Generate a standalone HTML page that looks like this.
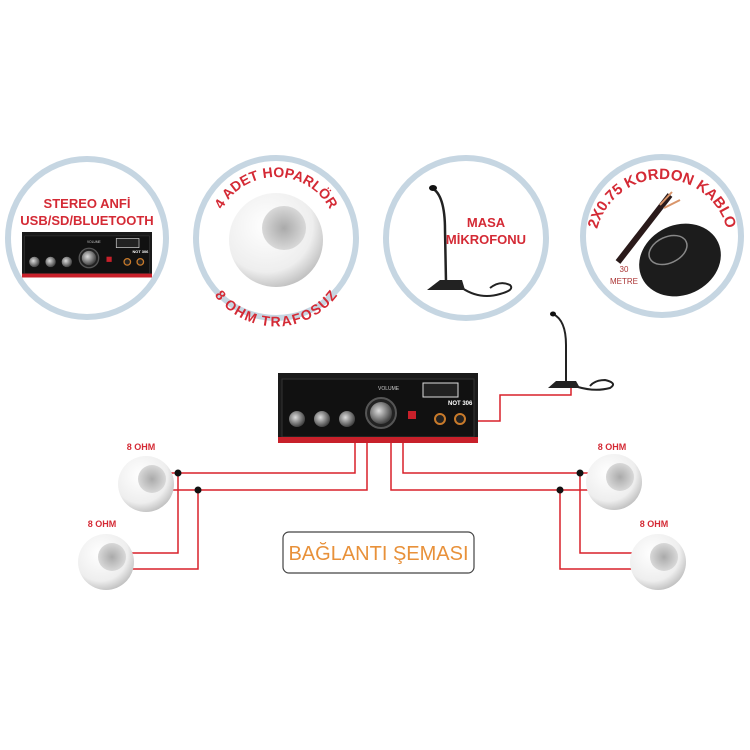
<!DOCTYPE html>
<html><head><meta charset="utf-8"><style>
html,body{margin:0;padding:0;background:#fff;}
svg{display:block;font-family:"Liberation Sans",sans-serif;}
.b{font-weight:bold;fill:#d42a35;}
</style></head><body>
<svg width="750" height="750" viewBox="0 0 750 750" xmlns="http://www.w3.org/2000/svg">
<defs>
<radialGradient id="sp" cx="40%" cy="35%" r="70%"><stop offset="0" stop-color="#fff"/><stop offset="0.7" stop-color="#eee"/><stop offset="1" stop-color="#bbb"/></radialGradient>
<radialGradient id="gr" cx="50%" cy="50%" r="50%"><stop offset="0" stop-color="#aaa"/><stop offset="1" stop-color="#d8d8d8"/></radialGradient>
<radialGradient id="kn" cx="40%" cy="40%" r="60%"><stop offset="0" stop-color="#ddd"/><stop offset="1" stop-color="#444"/></radialGradient>
<path id="a2top" d="M215,238 A61,61 0 0 1 337,238"/>
<path id="a2bot" d="M210,250 A66,66 0 0 0 342,250"/>
<path id="a4top" d="M595,246 A67,67 0 0 1 729,246"/>
<g id="amp">
<rect x="0" y="0" width="200" height="70" fill="#1a1a1a"/>
<rect x="4" y="6" width="192" height="58" fill="#111" stroke="#333"/>
<rect x="0" y="64" width="200" height="6" fill="#c8202a"/>
<circle cx="19" cy="46" r="8" fill="url(#kn)"/>
<circle cx="44" cy="46" r="8" fill="url(#kn)"/>
<circle cx="69" cy="46" r="8" fill="url(#kn)"/>
<circle cx="103" cy="40" r="15" fill="#222" stroke="#555" stroke-width="2"/>
<circle cx="103" cy="40" r="11" fill="url(#kn)"/>
<rect x="130" y="38" width="8" height="8" fill="#c8202a"/>
<circle cx="162" cy="46" r="5" fill="#222" stroke="#c87a2a" stroke-width="2"/>
<circle cx="182" cy="46" r="5" fill="#222" stroke="#c87a2a" stroke-width="2"/>
<rect x="145" y="10" width="35" height="14" fill="#222" stroke="#ddd" stroke-width="1"/>
<text x="170" y="32" font-size="6" fill="#fff" font-weight="bold">NOT 306</text>
<text x="100" y="17" font-size="5" fill="#ccc">VOLUME</text>
</g>
<g id="spk">
<circle r="28" fill="url(#sp)"/>
<circle cx="6" cy="-5" r="14" fill="url(#gr)"/>
</g>
</defs>

<g fill="#fff" stroke="#c6d6e2" stroke-width="6">
<circle cx="87" cy="238" r="79"/>
<circle cx="276" cy="238" r="80"/>
<circle cx="466" cy="238" r="80"/>
<circle cx="662" cy="236" r="79"/>
</g>

<text class="b" x="87" y="208" font-size="13" text-anchor="middle">STEREO ANFİ</text>
<text class="b" x="87" y="225" font-size="13" text-anchor="middle">USB/SD/BLUETOOTH</text>
<use href="#amp" transform="translate(22,232) scale(0.65)"/>

<text class="b" font-size="14"><textPath href="#a2top" startOffset="50%" text-anchor="middle">4 ADET HOPARLÖR</textPath></text>
<text class="b" font-size="14"><textPath href="#a2bot" startOffset="50%" text-anchor="middle" dominant-baseline="hanging">8 OHM TRAFOSUZ</textPath></text>
<circle cx="276" cy="240" r="47" fill="url(#sp)"/>
<circle cx="284" cy="228" r="22" fill="url(#gr)"/>

<text class="b" x="486" y="227" font-size="13" text-anchor="middle">MASA</text>
<text class="b" x="486" y="244" font-size="13" text-anchor="middle">MİKROFONU</text>
<path d="M432,188 Q445,195 445,230 L446,282" stroke="#222" stroke-width="2.5" fill="none"/>
<ellipse cx="433" cy="188" rx="4" ry="3" fill="#111"/>
<path d="M427,290 L440,280 L462,280 L465,290 Z" fill="#222"/>
<path d="M462,288 Q480,300 500,294 Q515,290 510,285 Q500,280 490,288" stroke="#222" stroke-width="2" fill="none"/>

<text class="b" font-size="15"><textPath href="#a4top" startOffset="50%" text-anchor="middle">2X0.75 KORDON KABLO</textPath></text>
<path d="M618,262 L670,195" stroke="#2a1a1a" stroke-width="6"/>
<path d="M660,205 L672,192 M664,208 L680,200" stroke="#d9956a" stroke-width="2"/>
<ellipse cx="680" cy="260" rx="42" ry="35" fill="#1c1c1c" transform="rotate(-25 680 260)"/>
<ellipse cx="668" cy="250" rx="20" ry="13" fill="none" stroke="#888" stroke-width="1.5" transform="rotate(-25 668 250)"/>
<text x="624" y="272" font-size="8" fill="#a33" text-anchor="middle">30</text>
<text x="624" y="284" font-size="8" fill="#a33" text-anchor="middle">METRE</text>

<g stroke="#d9202a" stroke-width="1.5" fill="none">
<path d="M355,442 V473 H160"/>
<path d="M367,442 V490 H160"/>
<path d="M178,473 V553 H120"/>
<path d="M198,490 V569 H120"/>
<path d="M403,442 V473 H600"/>
<path d="M391,442 V490 H600"/>
<path d="M580,473 V553 H645"/>
<path d="M560,490 V569 H645"/>
<path d="M457,421 H500 V395 H571 V388"/>
</g>
<g fill="#111">
<circle cx="178" cy="473" r="3.5"/><circle cx="198" cy="490" r="3.5"/>
<circle cx="580" cy="473" r="3.5"/><circle cx="560" cy="490" r="3.5"/>
</g>

<use href="#amp" transform="translate(278,373)"/>

<path d="M553,314 Q566,320 566,345 L566,382" stroke="#222" stroke-width="2" fill="none"/>
<ellipse cx="553" cy="314" rx="3" ry="2.5" fill="#111"/>
<path d="M548,388 L556,381 L576,381 L580,388 Z" fill="#222"/>
<path d="M578,387 Q595,392 610,388 Q618,383 605,380 Q595,380 590,386" stroke="#222" stroke-width="2" fill="none"/>

<use href="#spk" transform="translate(146,484)"/>
<use href="#spk" transform="translate(106,562)"/>
<use href="#spk" transform="translate(614,482)"/>
<use href="#spk" transform="translate(658,562)"/>

<g class="b" font-size="9" text-anchor="middle">
<text x="141" y="450">8 OHM</text>
<text x="102" y="527">8 OHM</text>
<text x="612" y="450">8 OHM</text>
<text x="654" y="527">8 OHM</text>
</g>

<rect x="283" y="532" width="191" height="41" rx="6" fill="#fff" stroke="#444" stroke-width="1.2"/>
<text x="378.5" y="560" font-size="20" fill="#e8913a" text-anchor="middle">BAĞLANTI ŞEMASI</text>
</svg>
</body></html>
